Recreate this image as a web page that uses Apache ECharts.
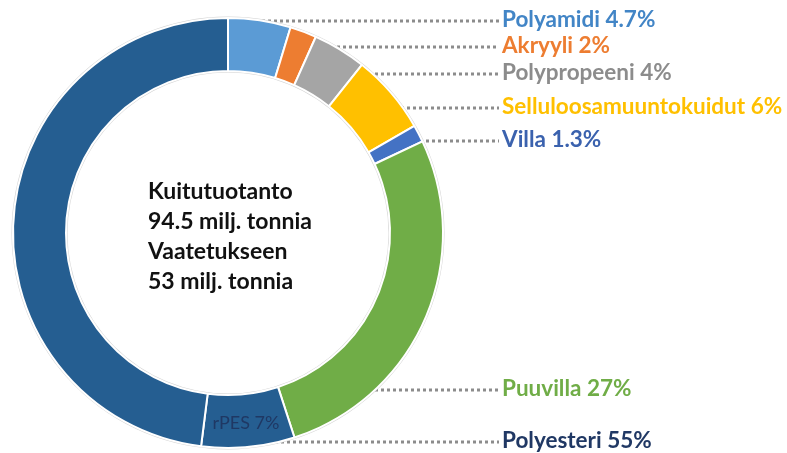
<!DOCTYPE html>
<html>
<head>
<meta charset="utf-8">
<script src="https://cdn.jsdelivr.net/npm/echarts@6/dist/echarts.min.js"></script>
<style>
  html, body { margin: 0; padding: 0; background: #fff; }
  #pie { width: 787px; height: 453px; }
</style>
</head>
<body>
<div id="pie"></div>
<script>
// kuitujen osuudet (%), myötäpäivään ylhäältä
const fibres = ['Polyamidi', 'Akryyli', 'Polypropeeni', 'Selluloosamuuntokuidut', 'Villa', 'Puuvilla', 'Polyesteri']
const shares = [4.7, 2, 4, 6, 1.3, 27, 55]
const recycledName = 'rPES'
const recycledShare = 7 // osa polyesterista

const fillColors = ['#5B9BD5', '#ED7D31', '#A5A5A5', '#FFC000', '#4472C4', '#70AD47', '#255E91']
const textColors = ['#4285C6', '#ED7D31', '#8C8C8C', '#FFC000', '#3B62AE', '#70AD47', '#203864']

// selitteiden paikat
const labelX = 502
const labelY = [20, 46, 73, 107, 140, 389, 441]
const leaderFromX = [250, 307, 345, 383, 408, 363, 185]

const centerLines = ['Kuitutuotanto', '94.5 milj. tonnia', 'Vaatetukseen', '53 milj. tonnia']

var chartDom = document.getElementById('pie')
var myChart = echarts.init(chartDom)

var data = []
var leaderIdx = []
fibres.forEach(function (name, i) {
  if (name === 'Polyesteri') {
    data.push({
      name: recycledName,
      value: recycledShare,
      itemStyle: { color: fillColors[i] },
      label: {
        position: 'inside',
        formatter: recycledName + ' ' + recycledShare + '%',
        color: '#1F3864',
        fontSize: 18,
        fontWeight: 'normal',
      },
      labelLine: { show: false },
    })
    leaderIdx.push(-1)
  }
  data.push({
    name: name,
    value: name === 'Polyesteri' ? shares[i] - recycledShare : shares[i],
    itemStyle: { color: fillColors[i] },
    label: {
      formatter: name + ' ' + shares[i] + '%',
      color: textColors[i],
    },
  })
  leaderIdx.push(i)
})

var option = {
  animation: false,
  title: {
    text: centerLines.join('\n'),
    left: 148,
    top: 177,
    padding: 0,
    textStyle: {
      fontFamily: 'Lato',
      fontSize: 23,
      fontWeight: 'bold',
      color: '#111',
      lineHeight: 30,
    },
  },
  series: [
    {
      // ohut harmaa reunaviiva
      type: 'pie',
      silent: true,
      center: [228, 233],
      radius: [160.5, 216.5],
      startAngle: 90,
      label: { show: false },
      labelLine: { show: false },
      itemStyle: { color: '#D4D4D4' },
      data: [1],
    },
    {
      type: 'pie',
      center: [228, 233],
      radius: [162, 215],
      startAngle: 90,
      clockwise: true,
      avoidLabelOverlap: false,
      itemStyle: { borderColor: '#fff', borderWidth: 2 },
      label: {
        show: true,
        position: 'outside',
        fontFamily: 'Lato',
        fontSize: 22.5,
        fontWeight: 'bold',
      },
      labelLine: {
        show: true,
        smooth: false,
        lineStyle: { color: '#8C8C8C', width: 3, type: [3, 3] },
      },
      labelLayout: function (p) {
        var k = leaderIdx[p.dataIndex]
        if (k < 0) return {}
        var y = labelY[k]
        return {
          x: labelX,
          y: y,
          align: 'left',
          verticalAlign: 'middle',
          labelLinePoints: [[leaderFromX[k], y + 1], [labelX - 3, y + 1], [labelX - 3, y + 1]],
        }
      },
      data: data,
    },
  ],
}
option && myChart.setOption(option)
</script>
</body>
</html>
